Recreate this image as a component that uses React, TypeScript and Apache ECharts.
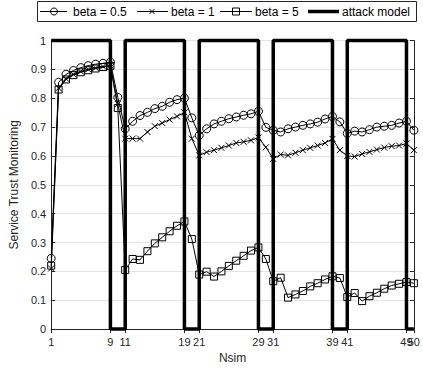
import React, { useEffect, useRef } from "react";
import * as echarts from "echarts";

// Nsim index (x positions 1..50)
const nsim: number[] = Array.from({ length: 50 }, (_, i) => i + 1);

const beta05: number[] = [
  0.245, 0.855, 0.883, 0.896, 0.906, 0.913, 0.918, 0.921, 0.925, 0.803,
  0.694, 0.72, 0.74, 0.751, 0.764, 0.772, 0.786, 0.795, 0.8, 0.732,
  0.671, 0.694, 0.711, 0.72, 0.729, 0.735, 0.741, 0.746, 0.755, 0.699,
  0.689, 0.683, 0.694, 0.7, 0.706, 0.711, 0.717, 0.728, 0.737, 0.718,
  0.678, 0.686, 0.683, 0.691, 0.7, 0.703, 0.706, 0.714, 0.72, 0.689,
];

const beta1: number[] = [
  0.21, 0.835, 0.868, 0.883, 0.893, 0.9, 0.905, 0.91, 0.914, 0.78,
  0.66, 0.66, 0.66, 0.683, 0.703, 0.714, 0.726, 0.737, 0.751, 0.66,
  0.602, 0.613, 0.62, 0.628, 0.636, 0.645, 0.649, 0.654, 0.664, 0.63,
  0.59, 0.605, 0.602, 0.611, 0.62, 0.628, 0.636, 0.645, 0.659, 0.62,
  0.6, 0.598, 0.607, 0.614, 0.622, 0.629, 0.634, 0.636, 0.643, 0.62,
];

const beta5: number[] = [
  0.22, 0.83, 0.865, 0.88, 0.89, 0.897, 0.903, 0.908, 0.912, 0.766,
  0.205, 0.243, 0.24, 0.27, 0.297, 0.318, 0.339, 0.358, 0.373, 0.312,
  0.189, 0.199, 0.182, 0.2, 0.219, 0.237, 0.254, 0.272, 0.283, 0.243,
  0.166, 0.178, 0.109, 0.12, 0.132, 0.148, 0.159, 0.172, 0.183, 0.177,
  0.111, 0.125, 0.097, 0.114, 0.126, 0.14, 0.151, 0.157, 0.163, 0.159,
];

// attack model step function
const attackX: number[] = [1, 9, 9, 11, 11, 19, 19, 21, 21, 29, 29, 31, 31, 39, 39, 41, 41, 49, 49, 50];
const attackY: number[] = [1, 1, 0, 0, 1, 1, 0, 0, 1, 1, 0, 0, 1, 1, 0, 0, 1, 1, 0, 0];

const xTicks: number[] = [1, 9, 11, 19, 21, 29, 31, 39, 41, 49, 50];

const seriesNames: string[] = ["beta = 0.5", "beta = 1", "beta = 5", "attack model"];

const FONT = "'Liberation Sans', Arial, Helvetica, sans-serif";
const AXIS = "#262626";
const xMarker = "path://M0,0L6,6M6,0L0,6";

export default function App() {
  const ref = useRef<HTMLDivElement>(null);

  useEffect(() => {
    const chart = echarts.init(ref.current!, null, { renderer: "svg" });

    const pts = (ys: number[]) => nsim.map((x, i) => [x, ys[i]]);
    const markerSeries = (name: string, ys: number[], symbol: string, size: number) => ({
      type: "line",
      name,
      data: pts(ys),
      symbol,
      symbolSize: size,
      showAllSymbol: true,
      itemStyle: { color: "transparent", borderColor: "#000", borderWidth: 1 },
      lineStyle: { color: "#000", width: 1 },
      silent: true,
      z: 3,
    });

    // ECharts hides the label next to the max label when they overlap;
    // repeating the last tick keeps both "49" and "50" visible like the original.
    const xLabelValues = xTicks.concat([xTicks[xTicks.length - 1]]);

    const ly = 11.5;
    const Z = 20;
    const lineEl = (x1: number, y1: number, x2: number, y2: number, w = 1) => ({
      type: "line",
      z: Z,
      silent: true,
      shape: { x1, y1, x2, y2 },
      style: { stroke: "#000", lineWidth: w },
    });
    const textEl = (x: number, t: string) => ({
      type: "text",
      z: Z,
      silent: true,
      x,
      y: ly,
      style: { text: t, fill: "#000", font: `12px ${FONT}`, verticalAlign: "middle", align: "left" },
    });

    const option: any = {
      animation: false,
      backgroundColor: "#fff",
      textStyle: { fontFamily: FONT },
      grid: { left: 46.5, right: 4.5, top: 40.5, bottom: 38.5 },
      xAxis: [
        {
          type: "value",
          min: 1,
          max: 50,
          position: "bottom",
          axisLine: { show: true, lineStyle: { color: AXIS, width: 1 } },
          axisTick: { show: true, inside: true, length: 4, customValues: xTicks, lineStyle: { color: AXIS } },
          axisLabel: {
            customValues: xLabelValues,
            color: AXIS,
            fontSize: 11,
            margin: 7,
            fontFamily: FONT,
            showMinLabel: true,
            showMaxLabel: true,
            hideOverlap: false,
          },
          splitLine: { show: false },
          name: "Nsim",
          nameLocation: "middle",
          nameGap: 21,
          nameTextStyle: { fontSize: 12, color: AXIS, fontFamily: FONT },
        },
        {
          type: "value",
          min: 1,
          max: 50,
          position: "top",
          axisLine: { show: true, lineStyle: { color: AXIS, width: 1 } },
          axisTick: { show: true, inside: true, length: 4, customValues: xTicks, lineStyle: { color: AXIS } },
          axisLabel: { show: false },
          splitLine: { show: false },
        },
      ],
      yAxis: [
        {
          type: "value",
          min: 0,
          max: 1,
          interval: 0.1,
          position: "left",
          axisLine: { show: true, lineStyle: { color: AXIS, width: 1 } },
          axisTick: { show: true, inside: true, length: 4, lineStyle: { color: AXIS } },
          axisLabel: { color: AXIS, fontSize: 11, margin: 5, fontFamily: FONT },
          splitLine: { show: true, lineStyle: { color: "#e3e3e3", width: 1 } },
          name: "Service Trust Monitoring",
          nameLocation: "middle",
          nameGap: 21,
          nameTextStyle: { fontSize: 12, color: AXIS, fontFamily: FONT },
        },
        {
          type: "value",
          min: 0,
          max: 1,
          interval: 0.1,
          position: "right",
          axisLine: { show: true, lineStyle: { color: AXIS, width: 1 } },
          axisTick: { show: true, inside: true, length: 4, lineStyle: { color: AXIS } },
          axisLabel: { show: false },
          splitLine: { show: false },
        },
      ],
      series: [
        markerSeries(seriesNames[0], beta05, "circle", 8),
        markerSeries(seriesNames[1], beta1, xMarker, 6),
        markerSeries(seriesNames[2], beta5, "rect", 7),
        {
          type: "line",
          name: seriesNames[3],
          data: attackX.map((x, i) => [x, attackY[i]]),
          symbol: "none",
          lineStyle: { color: "#000", width: 3.5 },
          clip: false,
          silent: true,
          z: 5,
        },
      ],
      graphic: [
        {
          type: "rect",
          z: Z - 1,
          silent: true,
          shape: { x: 37.5, y: 1.5, width: 379, height: 20 },
          style: { fill: "#fff", stroke: AXIS, lineWidth: 1 },
        },
        lineEl(40, ly, 67, ly),
        {
          type: "circle",
          z: Z,
          silent: true,
          shape: { cx: 54, cy: ly, r: 3.5 },
          style: { stroke: "#000", fill: "none", lineWidth: 1 },
        },
        textEl(73, seriesNames[0]),
        lineEl(137, ly, 168, ly),
        lineEl(149.5, ly - 2.5, 154.5, ly + 2.5),
        lineEl(154.5, ly - 2.5, 149.5, ly + 2.5),
        textEl(171, seriesNames[1]),
        lineEl(220, ly, 252, ly),
        {
          type: "rect",
          z: Z,
          silent: true,
          shape: { x: 232.5, y: ly - 3.5, width: 7, height: 7 },
          style: { stroke: "#000", fill: "none", lineWidth: 1 },
        },
        textEl(255, seriesNames[2]),
        lineEl(308, ly, 339, ly, 3.5),
        textEl(342, seriesNames[3]),
      ],
    };

    chart.setOption(option);
    return () => chart.dispose();
  }, []);

  return (
    <div
      ref={ref}
      style={{ width: 423, height: 369, position: "absolute", left: 0, top: 0 }}
    />
  );
}
